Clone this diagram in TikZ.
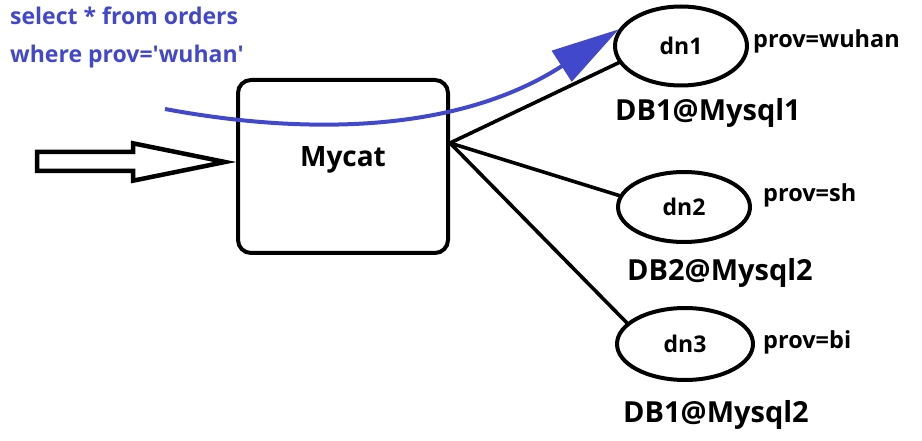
\documentclass[tikz,border=0pt]{standalone}
\usepackage{fontspec}
\setmainfont{Open Sans}
\usetikzlibrary{arrows.meta, positioning, shapes.geometric, calc}
\definecolor{querblue}{RGB}{66,72,204}
\tikzset{
    >=Latex,
    mc_proxy/.style={
        rectangle,
        draw=black,
        fill=white,
        line width=4pt,
        rounded corners=13pt,
        minimum width=210pt,
        minimum height=173pt
    },
    mc_title/.style={
        font=\fontsize{28}{30}\selectfont\bfseries
    },
    mc_dn/.style={
        ellipse,
        draw=black,
        line width=4pt,
        inner sep=0pt,
        font=\fontsize{23}{24}\selectfont\bfseries
    },
    mc_prov/.style={
        anchor=west,
        inner sep=0pt,
        font=\fontsize{23.5}{24}\selectfont\bfseries
    },
    mc_db/.style={
        inner sep=0pt,
        font=\fontsize{29}{30}\selectfont\bfseries
    },
    mc_link/.style={
        line width=3.6pt,
        line cap=round
    },
    mc_input/.style={
        draw=black,
        fill=white,
        line width=4.5pt,
        line join=miter
    },
    mc_query/.style={
        anchor=north west,
        align=left,
        inner sep=0pt,
        text=querblue,
        font=\fontsize{23}{38}\selectfont\bfseries
    },
    mc_route/.style={
        draw=querblue,
        line width=4pt,
        -{Triangle[length=68pt,width=36pt]}
    }
}

\begin{document}
\begin{tikzpicture}[x=1pt, y=-1pt]
\useasboundingbox (0,0) rectangle (922,441);

% SQL statement
\node[mc_query] (Query) at (10,7) {select * from orders\\where prov=\textquotesingle wuhan\textquotesingle};

% Mycat proxy
\node[mc_proxy, label={[mc_title, yshift=6.5pt]center:Mycat}] (Mycat) at (343,166.5) {};
\coordinate (hub) at ([yshift=23.5pt]Mycat.east);

% Incoming request
\coordinate (inTail) at (37,161.5);
\coordinate (inTip) at ([xshift=-11pt, yshift=4.5pt]Mycat.west);
\draw[mc_input] (inTail) ++(0,-9.5) -- (133,152) -- (133,143.3) -- (inTip)
  -- (133,180.7) -- (133,171) -- (37,171) -- cycle;

% Data nodes
\node[mc_dn, minimum width=132pt, minimum height=79pt] (dn1) at (681,46) {dn1};
\node[mc_dn, minimum width=132pt, minimum height=70pt] (dn2) at (684,207) {dn2};
\node[mc_dn, minimum width=136pt, minimum height=72pt] (dn3) at (685,344) {dn3};

\node[mc_prov] (prov1) at (753,41) {prov=wuhan};
\node[mc_prov] (prov2) at (763,195) {prov=sh};
\node[mc_prov] (prov3) at (763,342) {prov=bi};

\node[mc_db] (db1) at (708,113) {DB1@Mysql1};
\node[mc_db] (db2) at (720,273) {DB2@Mysql2};
\node[mc_db] (db3) at (716,415) {DB1@Mysql2};

% Edges
\draw[mc_link] (hub) -- (dn1.195);
\draw[mc_link] (hub) -- (dn2.170);
\draw[mc_link] (hub) -- (dn3.160);

% Route of the query
\coordinate (routeStart) at (165,109);
\draw[mc_route] (routeStart) .. controls (310,136) and (460,132) .. (dn1.165);

\end{tikzpicture}
\end{document}
